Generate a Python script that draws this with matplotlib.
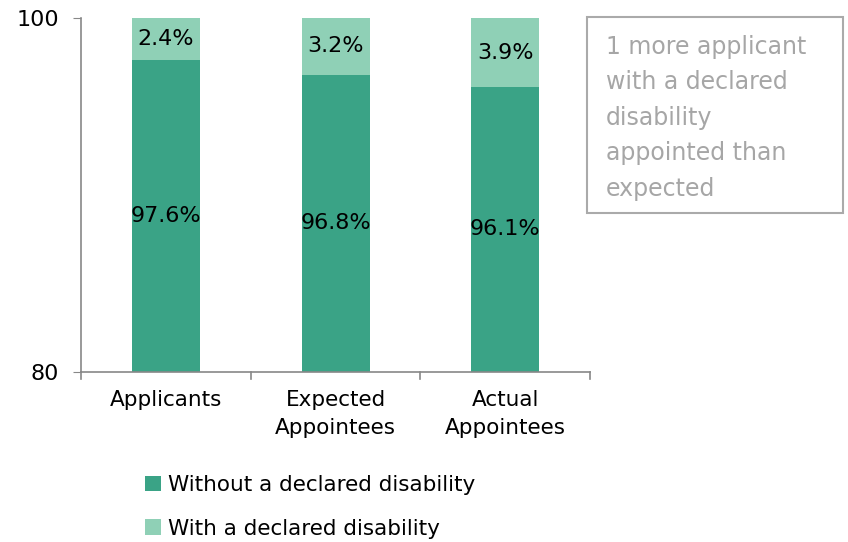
import matplotlib
matplotlib.use("Agg")
import matplotlib.pyplot as plt
from matplotlib.patches import Rectangle

categories = ["Applicants", "Expected\nAppointees", "Actual\nAppointees"]
without_disability = [97.6, 96.8, 96.1]
with_disability = [2.4, 3.2, 3.9]
series_names = ["Without a declared disability", "With a declared disability"]
note = "1 more applicant\nwith a declared\ndisability\nappointed than\nexpected"

dark = "#3AA386"
light = "#8FD0B6"
fs = 15.5
plt.rcParams['font.family'] = ['DejaVu Sans']

fig = plt.figure(figsize=(8.48, 5.42), dpi=100)
ax = fig.add_axes([0.0955, 0.3137, 0.6005, 0.6531])

x = list(range(len(categories)))
b1 = ax.bar(x, without_disability, width=0.4, color=dark, label=series_names[0])
b2 = ax.bar(x, with_disability, width=0.4, bottom=without_disability, color=light, label=series_names[1])

for xi, w, d in zip(x, without_disability, with_disability):
    ax.text(xi, (80 + w) / 2, f"{w:.1f}%", ha="center", va="center", fontsize=16, color="black")
    ax.text(xi, w + d / 2, f"{d:.1f}%", ha="center", va="center", fontsize=16, color="black")

ax.set_xlim(-0.5, 2.5)
ax.set_ylim(80, 100)
ax.set_yticks([80, 100])
ax.set_yticklabels(["80", "100"], fontsize=16)
ax.set_xticks(x)
ax.set_xticklabels(categories, fontsize=fs, linespacing=1.5)
ax.tick_params(axis="x", length=0, pad=13)
ax.tick_params(axis="y", length=6, color="#888888", pad=10)
for xb in [-0.5, 0.5, 1.5, 2.5]:
    ax.plot([xb, xb], [80, 79.6], color="#888888", lw=1.2, clip_on=False)
for s in ["top", "right"]:
    ax.spines[s].set_visible(False)
for s in ["left", "bottom"]:
    ax.spines[s].set_color("#888888")
    ax.spines[s].set_linewidth(1.2)

# legend
fig.legend(handles=[b1, b2], labels=series_names, loc="upper left",
           bbox_to_anchor=(145/848, 1 - 475/542), frameon=False, fontsize=fs,
           handlelength=0.75, handleheight=0.75, handletextpad=0.3, labelspacing=1.1,
           borderaxespad=0, borderpad=0)

# note box
fig.patches.append(Rectangle((587/848, 1 - 213/542), (843-587)/848, (213-17)/542,
                             transform=fig.transFigure, fill=False, edgecolor="#AAAAAA", lw=1.5))
fig.text(606/848, 1 - 35/542, note, ha="left", va="top", fontsize=17, color="#A6A6A6",
         linespacing=1.6)

fig.savefig("out.png", dpi=100)
